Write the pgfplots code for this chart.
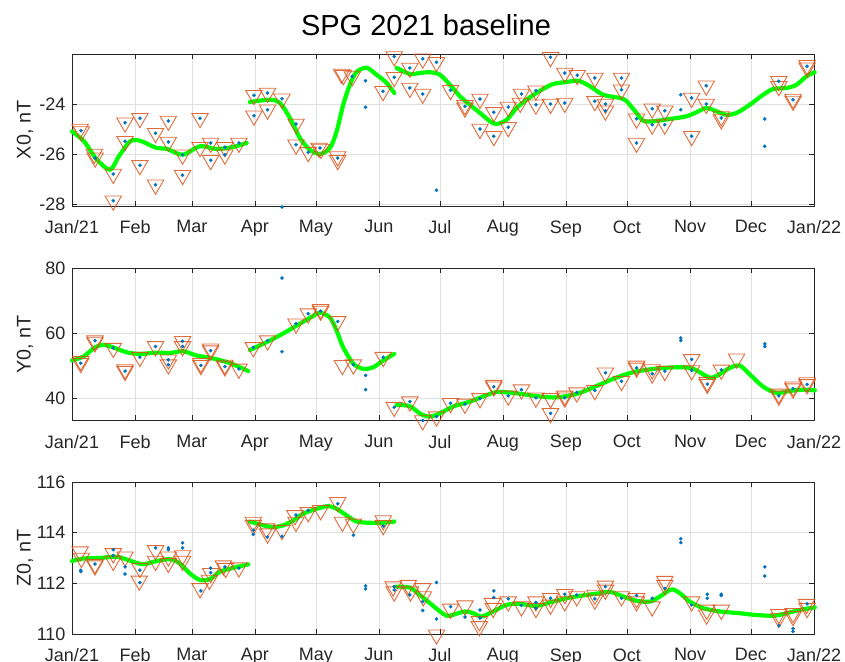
\documentclass[border=0pt]{standalone}
\usepackage{pgfplots}
\pgfplotsset{compat=1.18}
\usepackage{fontspec}
\setmainfont{Liberation Sans}
\definecolor{mblue}{rgb}{0,0.447,0.741}
\definecolor{morange}{rgb}{0.85,0.325,0.098}
\definecolor{axgray}{rgb}{0.15,0.15,0.15}
\definecolor{mgreen}{rgb}{0,1,0}
\pgfplotsset{
  panel/.style={
    scale only axis, width=742pt, height=152pt,
    xmin=0, xmax=365,
    xtick={0,31,59,90,120,151,181,212,243,273,304,334,365},
    xticklabels={Jan/21,Feb,Mar,Apr,May,Jun,Jul,Aug,Sep,Oct,Nov,Dec,Jan/22},
    grid=major, major grid style={black!12, line width=0.7pt},
    axis line style={axgray, line width=0.8pt},
    tick style={axgray, line width=0.8pt},
    major tick length=5pt, tick align=inside, tick pos=both,
    ticklabel style={font=\fontsize{18}{20}\selectfont, text=axgray},
    xticklabel style={yshift=-11pt},
    yticklabel style={xshift=-3pt},
    every axis y label/.style={at={(axis description cs:0,0.5)}, xshift=-47pt, rotate=90, anchor=center, font=\fontsize{19.8}{22}\selectfont, text=axgray},
    clip=false,
  },
  tri/.style={only marks, mark=triangle, mark size=9.5pt, mark options={rotate=180, draw=morange, draw opacity=0.85, fill=none, line width=0.9pt}},
  dot/.style={only marks, mark=*, mark size=1.6pt, mark options={draw=mblue, fill=mblue}},
  grn/.style={mgreen, line width=4.2pt, smooth, line cap=round, no marks},
}
\begin{document}
\begin{tikzpicture}
% ---------------- X0 ----------------
\begin{axis}[panel, at={(72pt,455pt)}, anchor=south west,
  ymin=-28.08, ymax=-22, ytick={-28,-26,-24}, yticklabels={-28,-26,-24},
  ylabel={X0, nT}]
\addplot[tri] coordinates {
(4.0,-25.0) (4.6,-25.1) (11.0,-26.0) (11.4,-26.15) (20.3,-26.8) (20.3,-27.87)
(26.1,-24.75) (26.1,-25.49) (33.4,-24.57) (33.4,-26.45) (41.1,-25.17) (41.1,-27.23)
(47.4,-24.68) (47.4,-25.52) (54.4,-26.03) (54.4,-26.85) (63.0,-24.57) (63.0,-25.73)
(68.2,-25.56) (68.2,-26.25) (75.2,-25.73) (75.2,-26.03) (82.1,-25.56)
(89.5,-23.65) (89.5,-24.47) (96.2,-23.56) (96.2,-24.23) (103.3,-23.79)
(110.2,-24.8) (110.2,-25.63) (116.2,-25.93) (121.5,-25.76) (122.5,-25.8)
(130.7,-26.1) (130.7,-26.25) (132.6,-22.8) (133.5,-22.85) (137.9,-22.9)
(153.0,-23.49) (158.5,-22.1) (158.5,-22.93) (166.2,-22.56) (166.2,-23.36)
(172.5,-22.19) (172.5,-23.6) (179.3,-22.33) (186.2,-23.45) (193.3,-24.05) (193.3,-24.15)
(200.7,-23.8) (200.7,-25.0) (207.5,-24.33) (207.5,-25.29) (214.6,-24.12) (214.6,-24.93)
(221.1,-23.6) (220.5,-23.96) (228.2,-23.47) (228.2,-24.03) (235.4,-22.13) (235.4,-24.0)
(242.4,-22.76) (242.4,-23.96) (248.5,-22.85) (257.2,-22.96) (257.2,-23.89)
(262.4,-24.0) (262.4,-24.27) (270.3,-22.96) (270.3,-23.43) (277.7,-24.59) (277.7,-25.56)
(285.4,-24.19) (285.4,-24.83) (291.6,-24.27) (291.6,-24.83) (304.8,-23.76) (304.8,-25.29)
(312.0,-23.27) (312.0,-24.0) (319.4,-24.5) (319.4,-24.62) (347.7,-23.09) (347.7,-23.29)
(354.7,-23.8) (354.7,-23.88) (361.6,-22.45) (361.6,-22.55)
};
\addplot[dot] coordinates {
(4.4,-25.07) (11.3,-26.16) (20.3,-26.8) (20.3,-27.87) (26.1,-24.75) (26.1,-25.49)
(33.4,-24.57) (33.4,-26.45) (41.1,-25.17) (41.1,-27.23) (47.4,-24.68) (47.4,-25.52)
(54.4,-26.03) (54.4,-26.85) (63.0,-24.57) (68.2,-25.56) (68.2,-26.25) (75.2,-25.73) (75.2,-26.03)
(82.1,-25.56) (89.5,-23.65) (89.5,-24.47) (96.2,-23.56) (96.2,-24.23) (103.3,-23.79)
(103.3,-28.12) (110.2,-24.8) (110.2,-25.63) (116.2,-25.93) (122.0,-25.76)
(130.7,-26.16) (137.9,-22.9) (144.4,-23.07) (144.4,-24.13) (153.0,-23.49)
(158.5,-22.1) (158.5,-22.93) (166.2,-22.56) (166.2,-23.36) (172.5,-22.19) (172.5,-23.6)
(179.3,-22.33) (179.3,-27.45) (186.2,-23.45) (193.3,-24.09) (200.7,-23.8) (200.7,-25.0)
(207.5,-24.33) (207.5,-25.29) (214.6,-24.12) (214.6,-24.93) (221.1,-23.6) (228.2,-23.47)
(228.2,-24.03) (235.4,-22.13) (235.4,-24.0) (242.4,-22.76) (242.4,-23.96) (248.5,-22.85)
(257.2,-22.96) (257.2,-23.89) (262.4,-24.0) (262.4,-24.27) (270.3,-22.96) (270.3,-23.43)
(277.7,-24.59) (277.7,-25.56) (285.4,-24.19) (285.4,-24.83) (291.6,-24.27) (291.6,-24.83)
(299.5,-23.63) (299.5,-24.23) (304.8,-23.76) (304.8,-25.29) (312.0,-23.27) (312.0,-24.0)
(319.4,-24.56) (340.8,-24.6) (340.8,-25.69) (347.7,-23.09) (354.7,-23.83) (361.6,-22.49)
};
\addplot[grn] coordinates {
(0,-25.1) (6,-25.5) (12,-26.2) (18.7,-26.63) (23,-26.1) (28.5,-25.5) (33.4,-25.47)
(41.6,-25.76) (46.6,-25.79) (54.4,-26.03) (63,-25.69) (71.1,-25.8) (79.3,-25.72) (85.9,-25.56)
};
\addplot[grn] coordinates {
(87.5,-23.92) (97.4,-23.83) (102.3,-23.96) (107.2,-24.56) (112.1,-25.36) (117,-25.83)
(122,-26.0) (126.9,-25.76) (130.2,-25.09) (133.4,-24.03) (136.7,-23.23) (140,-22.72)
(144.9,-22.55) (149.8,-22.83) (154.8,-23.16) (158.5,-23.56)
};
\addplot[grn] coordinates {
(159.7,-22.56) (166.2,-22.8) (171.1,-22.76) (176,-22.73) (181,-22.83) (185.9,-23.23)
(190.8,-23.69) (195.7,-24.03) (200.7,-24.36) (205.6,-24.69) (208.9,-24.8) (213.8,-24.63)
(218.7,-24.16) (223.6,-23.83) (230.2,-23.47) (236.7,-23.2) (243.3,-23.12) (249,-23.07)
(254.8,-23.29) (261.3,-23.63) (269.5,-23.76) (272.8,-23.89) (277.7,-24.36) (281,-24.67)
(285.9,-24.69) (294.1,-24.6) (302.3,-24.49) (307.2,-24.33) (312.1,-24.16) (317,-24.29)
(321.9,-24.43) (326.9,-24.36) (333.4,-24.03) (340,-23.63) (344.9,-23.4) (351.5,-23.36)
(356.4,-23.23) (361.3,-22.89) (365.3,-22.73)
};
\end{axis}
% ---------------- Y0 ----------------
\begin{axis}[panel, at={(72pt,240.5pt)}, anchor=south west,
  ymin=33.2, ymax=80, ytick={40,60,80}, yticklabels={40,60,80},
  ylabel={Y0, nT}]
\addplot[tri] coordinates {
(4.3,50.86) (4.3,51.5) (11.3,57.77) (11.3,57.2) (20.3,55.5) (26.1,48.4) (26.1,48.9)
(33.4,52.7) (41.1,56.0) (47.4,51.9) (47.4,50.4) (54.4,57.6) (54.4,56.0) (63.4,50.2) (63.4,50.8)
(68.2,54.7) (68.2,55.3) (75.2,49.8) (75.2,50.3) (82.1,49.1) (89.2,55.7) (96.2,57.8)
(110.2,63.0) (116.2,66.1) (122.3,66.9) (122.3,67.4) (130.7,63.7) (133.0,50.2) (138.4,50.4)
(153.1,52.7) (158.5,37.3) (166.2,39.0) (172.5,33.2) (179.3,34.4) (186.2,38.5) (193.3,38.3)
(200.7,40.0) (207.5,43.6) (207.5,44.1) (214.6,40.8) (221.1,42.7) (228.2,40.2) (235.4,35.4)
(235.4,40.0) (242.4,40.2) (242.4,40.8) (248.3,41.8) (257.2,42.5) (262.4,47.9) (270.3,45.3)
(277.7,49.4) (277.7,50.0) (285.4,47.6) (285.4,48.9) (291.6,48.4) (304.8,52.0) (304.8,48.6)
(312.5,44.4) (312.5,45.0) (319.4,48.8) (326.9,52.2) (347.7,40.8) (347.7,41.4)
(354.7,43.0) (354.7,43.6) (361.6,44.3) (361.6,44.9)
};
\addplot[dot] coordinates {
(4.3,50.86) (11.3,57.77) (20.3,55.5) (26.1,48.4) (33.4,52.7) (41.1,56.0) (47.4,51.9)
(47.4,50.4) (54.4,57.6) (54.4,56.0) (63.4,50.2) (68.2,54.7) (75.2,49.8) (82.1,49.1)
(89.2,55.7) (96.2,57.8) (103.3,77.1) (103.3,54.4) (110.2,63.0) (116.2,66.1) (122.3,66.9)
(130.7,63.7) (138.4,50.4) (144.4,47.1) (144.4,42.7) (153.1,52.7) (158.5,37.3) (166.2,39.0)
(172.5,33.2) (179.3,34.4) (186.2,38.5) (193.3,38.3) (200.7,40.0) (207.5,43.6) (214.6,40.8)
(221.1,42.7) (228.2,40.2) (235.4,35.4) (242.4,40.2) (248.3,41.8) (257.2,42.5) (262.4,47.9)
(270.3,45.3) (277.7,49.4) (285.4,47.6) (291.6,48.4) (299.5,57.8) (299.5,58.6)
(304.8,52.0) (304.8,48.6) (312.5,44.4) (319.4,48.8) (340.8,56.0) (340.8,56.8)
(347.7,40.8) (354.7,43.0) (361.6,44.3)
};
\addplot[grn] coordinates {
(0,51.7) (5.6,52.9) (11.3,55.7) (15.4,56.5) (20.3,55.7) (26.9,54.2) (33.4,53.7)
(41.6,54.1) (48.2,54.0) (54.8,54.5) (61.3,53.2) (67.9,52.5) (76.1,51.2) (82.6,49.6) (86.7,48.4)
};
\addplot[grn] coordinates {
(87.5,54.9) (95.7,57.3) (103.9,60.0) (112.1,63.0) (118.7,65.4) (122,66.4) (126.9,64.9)
(130.2,60.8) (133.4,55.7) (138.4,50.7) (143.3,49.1) (148.2,49.6) (153.1,51.7) (158.5,53.7)
};
\addplot[grn] coordinates {
(159.7,38.0) (166.2,37.6) (171.5,35.2) (176.1,34.4) (181.0,35.4) (187.5,37.5) (195.7,39.0)
(203.9,41.0) (208.9,42.0) (215.4,41.8) (221.9,41.3) (228.6,40.7) (236.7,40.3) (243.3,40.7)
(249.8,41.7) (256.4,43.4) (264.6,45.6) (269.5,46.8) (276.1,48.1) (282.6,48.8) (289.2,49.3)
(299,49.6) (305.6,49.1) (313.8,46.4) (318.7,47.5) (323.6,49.4) (328.5,50.1) (333.4,47.4)
(340,43.6) (346.6,41.7) (353.1,42.3) (359.7,42.7) (365.4,42.5)
};
\end{axis}
% ---------------- Z0 ----------------
\begin{axis}[panel, at={(72pt,27pt)}, anchor=south west,
  ymin=110, ymax=116, ytick={110,112,114,116}, yticklabels={110,112,114,116},
  ylabel={Z0, nT}]
\addplot[tri] coordinates {
(4.0,113.25) (4.6,113.0) (11.3,112.76) (11.3,112.7) (20.3,113.18) (20.3,112.88) (26.1,113.05)
(33.4,112.6) (33.1,112.1) (41.1,113.3) (41.1,112.88) (47.4,113.05) (47.4,112.8) (54.4,113.1)
(54.4,112.88) (63.0,111.8) (67.6,112.13) (68.2,112.4) (74.4,112.7) (75.6,112.6) (82.1,112.62)
(89.2,114.42) (89.2,114.3) (95.7,114.16) (96.2,113.96) (103.3,114.1) (109.7,114.68) (110.2,114.42)
(116.2,114.8) (122.3,114.88) (130.7,115.2) (133.0,114.42) (138.4,114.35) (153.1,114.48)
(153.1,114.29) (158.0,111.87) (158.5,111.67) (165.4,111.93) (166.5,111.67) (172.5,111.8)
(172.8,111.48) (179.3,109.97) (186.2,110.99) (193.3,111.12) (200.4,110.3) (200.4,110.5)
(206.8,111.22) (207.2,111.02) (214.6,111.28) (221.1,111.08) (228.2,111.28) (228.2,111.02)
(235.4,111.41) (235.4,111.15) (242.4,111.57) (242.4,111.28) (248.3,111.48) (257.2,111.54)
(257.2,111.35) (262.4,111.9) (262.4,111.74) (270.3,111.48) (277.7,111.41) (277.7,111.28)
(285.4,111.08) (291.6,112.09) (291.6,111.93) (304.8,111.28) (312.2,110.95) (312.2,110.76)
(319.4,110.95) (347.7,110.78) (347.7,110.63) (354.7,110.82) (354.7,110.7) (361.3,111.18)
(361.6,111.02)
};
\addplot[dot] coordinates {
(4.3,112.52) (4.3,112.47) (11.3,112.76) (20.3,113.33) (20.3,113.1) (26.1,112.65) (26.1,112.37)
(33.4,112.52) (33.4,112.03) (41.1,113.4) (47.4,113.4) (47.4,113.33) (54.4,113.6) (54.4,113.4)
(63.4,111.7) (68.2,112.6) (68.2,112.42) (75.2,112.65) (82.1,112.6) (89.2,114.1) (89.2,113.93)
(96.2,113.83) (103.3,113.86) (110.2,114.7) (116.2,114.88) (130.7,115.14) (138.4,113.9)
(144.4,111.9) (144.4,111.78) (153.1,114.26) (158.5,111.74) (158.5,111.87) (166.2,111.54)
(172.5,111.28) (172.5,110.93) (179.3,112.03) (179.3,110.59) (186.2,111.08) (193.3,110.67)
(200.7,110.95) (200.7,110.63) (207.5,111.7) (207.5,111.44) (214.6,111.39) (221.1,111.13)
(228.2,111.25) (228.2,111.02) (235.4,111.41) (242.4,111.57) (248.3,111.54) (257.2,111.39)
(262.4,111.87) (270.3,111.41) (277.7,111.52) (285.4,111.41) (291.6,111.8) (299.5,113.76)
(299.5,113.61) (304.8,111.15) (312.5,111.57) (312.5,111.41) (319.4,111.57) (319.4,111.52)
(340.8,112.65) (340.8,112.29) (347.7,110.33) (354.7,110.21) (354.7,110.1) (361.6,111.19)
};
\addplot[grn] coordinates {
(0,112.88) (5.6,112.98) (13.8,113.0) (22,113.05) (30.2,112.85) (35.1,112.75) (41.6,112.88)
(48.2,112.95) (53.1,112.78) (58,112.39) (63,112.13) (67.9,112.17) (72.8,112.46) (79.3,112.61)
(86.7,112.75)
};
\addplot[grn] coordinates {
(87.5,114.44) (94.1,114.29) (99,114.22) (103.9,114.29) (108.9,114.48) (113.8,114.75)
(120.3,114.94) (126.1,115.05) (130.2,114.94) (135.1,114.68) (140,114.44) (146.6,114.39)
(153.1,114.39) (158.5,114.44)
};
\addplot[grn] coordinates {
(159.7,111.87) (166.2,111.83) (171.1,111.54) (176,111.22) (181,110.89) (184.3,110.72)
(187.5,110.76) (193.3,110.89) (197.4,110.82) (201.5,110.69) (207.2,110.89) (213.8,111.15)
(220.3,111.19) (228.5,111.11) (236.7,111.28) (244.9,111.44) (253.1,111.54) (259.7,111.61)
(264.6,111.67) (271.1,111.48) (277.7,111.31) (284.3,111.28) (289.2,111.48) (294.9,111.76)
(299,111.61) (303.9,111.28) (310.5,111.02) (318.7,110.89) (328.5,110.82) (335.1,110.76)
(344.9,110.72) (351.5,110.82) (358,110.95) (365.4,111.05)
};
\end{axis}
\node[anchor=base, font=\fontsize{29}{32}\selectfont, text=black] at (426pt,625pt) {SPG 2021 baseline};
\pgfresetboundingbox
\useasboundingbox (0,0) rectangle (845pt,661pt);
\end{tikzpicture}
\end{document}
